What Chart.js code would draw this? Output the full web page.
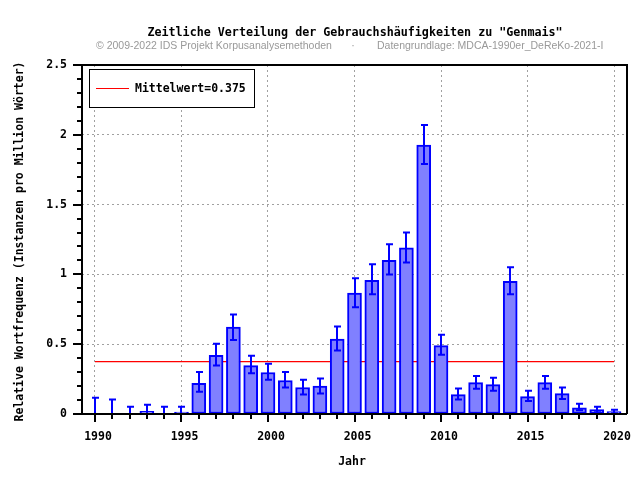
<!DOCTYPE html>
<html>
<head>
<meta charset="utf-8">
<script src="https://cdn.jsdelivr.net/npm/chart.js@4/dist/chart.umd.min.js"></script>
<style>
html,body{margin:0;padding:0;background:#fff;}
#wrap{width:640px;height:480px;position:relative;}
</style>
</head>
<body>
<div id="wrap"><canvas id="c" width="640" height="480"></canvas></div>
<script>
const titleText = 'Zeitliche Verteilung der Gebrauchshäufigkeiten zu "Genmais"';
const subLeft = '© 2009-2022 IDS Projekt Korpusanalysemethoden';
const subSep = '·';
const subRight = 'Datengrundlage: MDCA-1990er_DeReKo-2021-I';
const yTitle = 'Relative Wortfrequenz (Instanzen pro Million Wörter)';
const xTitle = 'Jahr';

const years = [1990,1991,1992,1993,1994,1995,1996,1997,1998,1999,2000,2001,2002,2003,2004,2005,2006,2007,2008,2009,2010,2011,2012,2013,2014,2015,2016,2017,2018,2019,2020];
const values = [0,0,0,0.02,0,0.014,0.22,0.42,0.622,0.347,0.297,0.24,0.19,0.2,0.537,0.867,0.958,1.10,1.19,1.927,0.49,0.139,0.225,0.21,0.95,0.124,0.225,0.146,0.045,0.031,0.017];
const errLow = [0,0,0,0,0,0,0.16,0.347,0.53,0.292,0.246,0.19,0.139,0.146,0.455,0.764,0.857,1.0,1.085,1.79,0.424,0.103,0.18,0.167,0.857,0.093,0.18,0.108,0.027,0.012,0.005];
const errHigh = [0.117,0.103,0.052,0.067,0.052,0.052,0.30,0.504,0.713,0.418,0.36,0.30,0.246,0.254,0.627,0.972,1.073,1.216,1.30,2.07,0.567,0.182,0.273,0.26,1.051,0.167,0.273,0.189,0.074,0.052,0.031];
const meanValue = 0.375;
const meanLabel = 'Mittelwert=0.375';

const yMajorTicks = [0,0.5,1,1.5,2,2.5];
const yTickLabels = ['0','0.5','1','1.5','2','2.5'];
const yMinorTicks = [0.1,0.2,0.3,0.4,0.6,0.7,0.8,0.9,1.1,1.2,1.3,1.4,1.6,1.7,1.8,1.9,2.1,2.2,2.3,2.4];
const xMajorTicks = [1990,1995,2000,2005,2010,2015,2020];
const xTickLabels = ['1990','1995','2000','2005','2010','2015','2020'];

const MONO = '"DejaVu Sans Mono", monospace';

const decor = {
  id: 'decor',
  afterDatasetsDraw(chart) {
    const ctx = chart.ctx;
    const xs = chart.scales.x, ys = chart.scales.y;
    ctx.save();
    ctx.strokeStyle = '#0000ff';
    ctx.lineWidth = 2;
    years.forEach((yr, i) => {
      const px = Math.round(xs.getPixelForValue(yr));
      const lo = ys.getPixelForValue(errLow[i]);
      const hi = ys.getPixelForValue(errHigh[i]);
      ctx.beginPath();
      ctx.moveTo(px, lo); ctx.lineTo(px, hi);
      ctx.moveTo(px - 3, hi); ctx.lineTo(px + 4, hi);
      if (errLow[i] > 0) { ctx.moveTo(px - 3, lo); ctx.lineTo(px + 4, lo); }
      ctx.stroke();
    });
    ctx.restore();
  },
  afterDraw(chart) {
    const ctx = chart.ctx;
    const a = chart.chartArea;
    const xs = chart.scales.x, ys = chart.scales.y;
    ctx.save();
    ctx.strokeStyle = '#000';
    ctx.lineWidth = 2;
    ctx.beginPath();
    ctx.moveTo(a.left - 9, a.top); ctx.lineTo(a.right, a.top); ctx.lineTo(a.right, a.bottom);
    ctx.moveTo(a.left - 9, a.bottom); ctx.lineTo(a.right, a.bottom);
    ctx.moveTo(a.left, a.top); ctx.lineTo(a.left, a.bottom + 1);
    ctx.stroke();
    ctx.beginPath();
    yMajorTicks.forEach(v => { const p = Math.round(ys.getPixelForValue(v)); ctx.moveTo(a.left - 9, p); ctx.lineTo(a.left, p); });
    yMinorTicks.forEach(v => { const p = Math.round(ys.getPixelForValue(v)); ctx.moveTo(a.left - 5, p); ctx.lineTo(a.left, p); });
    xMajorTicks.forEach(v => { const p = Math.round(xs.getPixelForValue(v)); ctx.moveTo(p, a.bottom); ctx.lineTo(p, a.bottom + 8); });
    years.forEach(v => { if (xMajorTicks.indexOf(v) < 0) { const p = Math.round(xs.getPixelForValue(v)); ctx.moveTo(p, a.bottom); ctx.lineTo(p, a.bottom + 5); } });
    ctx.stroke();

    ctx.fillStyle = '#000';
    ctx.font = 'bold 11.5px ' + MONO;
    ctx.textBaseline = 'middle';
    ctx.textAlign = 'right';
    yMajorTicks.forEach((v, i) => ctx.fillText(yTickLabels[i], 67, ys.getPixelForValue(v)));
    ctx.textAlign = 'center';
    xMajorTicks.forEach((v, i) => ctx.fillText(xTickLabels[i], xs.getPixelForValue(v) + 3, 437));
    ctx.fillText(xTitle, 352, 462);

    ctx.save();
    ctx.translate(20, (a.top + a.bottom) / 2 + 2);
    ctx.rotate(-Math.PI / 2);
    ctx.fillText(yTitle, 0, 0);
    ctx.restore();

    ctx.font = 'bold 11.7px ' + MONO;
    ctx.fillText(titleText, 355, 33);
    ctx.fillStyle = '#999999';
    ctx.font = '10.5px "Liberation Sans", Arial, sans-serif';
    ctx.textAlign = 'left';
    ctx.fillText(subLeft, 96, 46);
    ctx.textAlign = 'center';
    ctx.fillText(subSep, 353, 46);
    ctx.textAlign = 'left';
    ctx.fillText(subRight, 377, 46);

    ctx.fillStyle = '#fff';
    ctx.fillRect(89.5, 69.5, 165, 38);
    ctx.strokeStyle = '#000';
    ctx.lineWidth = 1;
    ctx.strokeRect(89.5, 69.5, 165, 38);
    ctx.strokeStyle = '#ff0000';
    ctx.beginPath(); ctx.moveTo(96, 88.5); ctx.lineTo(129, 88.5); ctx.stroke();
    ctx.fillStyle = '#000';
    ctx.font = 'bold 11.5px ' + MONO;
    ctx.textAlign = 'left';
    ctx.fillText(meanLabel, 135, 89);
    ctx.restore();
  }
};

new Chart(document.getElementById('c'), {
  data: {
    datasets: [
      {
        type: 'bar',
        data: years.map((y, i) => ({x: y, y: values[i]})),
        backgroundColor: '#8080ff',
        borderColor: '#0000ff',
        borderWidth: 2,
        borderSkipped: false,
        barThickness: 14,
        order: 1
      },
      {
        type: 'line',
        data: [{x: years[0], y: meanValue}, {x: years[years.length - 1], y: meanValue}],
        borderColor: '#ff0000',
        borderWidth: 1.3,
        pointRadius: 0,
        fill: false,
        order: 2
      }
    ]
  },
  options: {
    responsive: false,
    animation: false,
    events: [],
    layout: { padding: { top: 65, right: 13, left: 0, bottom: 0 } },
    plugins: { legend: { display: false }, tooltip: { enabled: false }, title: { display: false } },
    scales: {
      x: {
        type: 'linear',
        offset: false,
        bounds: 'ticks',
        min: 1989.25,
        max: 2020.75,
        afterBuildTicks(s) { s.ticks = xMajorTicks.map(v => ({value: v})); },
        afterFit(s) { s.height = 66; },
        ticks: { display: false },
        grid: { color: '#a0a0a0', lineWidth: 1, drawTicks: false, offset: false },
        border: { display: false, dash: [2, 3] }
      },
      y: {
        min: 0,
        max: 2.5,
        afterBuildTicks(s) { s.ticks = yMajorTicks.map(v => ({value: v})); },
        afterFit(s) { s.width = 82; },
        ticks: { display: false },
        grid: { color: '#a0a0a0', lineWidth: 1, drawTicks: false },
        border: { display: false, dash: [2, 3] }
      }
    }
  },
  plugins: [decor]
});
</script>
</body>
</html>
